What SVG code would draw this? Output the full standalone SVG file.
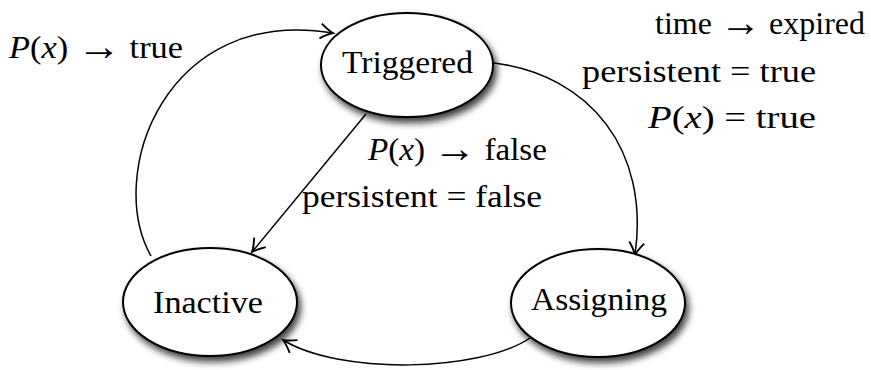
<svg xmlns="http://www.w3.org/2000/svg" width="871" height="370" viewBox="0 0 871 370">
<style>
.node{fill:#fff;stroke:#000;stroke-width:2;filter:url(#sh)}
.edge{fill:none;stroke:#000;stroke-width:1.5;marker-end:url(#arr)}
.t{font-family:'Liberation Serif','DejaVu Serif',serif;font-size:31px;fill:#000}
.it{font-style:italic}
.ar{font-size:40px}
</style>
<defs>
<filter id="sh" x="-20%" y="-20%" width="150%" height="150%">
<feDropShadow dx="3" dy="5" stdDeviation="3.5" flood-color="#000" flood-opacity="0.75"/>
</filter>
<marker id="arr" markerUnits="userSpaceOnUse" markerWidth="20" markerHeight="20" refX="0" refY="0" viewBox="-12 -8 14 16" orient="auto">
<path d="M-10,-6 Q-4,-1.5 0,0 Q-4,1.5 -10,6" fill="none" stroke="#000" stroke-width="1.5"/>
</marker>
</defs>
<g id="edges">
<path class="edge" d="M151,256 C105,175 165,5 333,33"/>
<path class="edge" d="M494,63 C590,75 650,150 635,255"/>
<path class="edge" d="M366,114 L252,252"/>
<path class="edge" d="M530,338 C480,372 340,375 283,340"/>
</g>
<g id="triggered">
<ellipse class="node" cx="407" cy="65" rx="86" ry="52"/>
<text class="t" x="342" y="73" textLength="131" lengthAdjust="spacingAndGlyphs">Triggered</text>
</g>
<g id="inactive">
<ellipse class="node" cx="210" cy="302" rx="87" ry="54"/>
<text class="t" x="153" y="313" textLength="110" lengthAdjust="spacingAndGlyphs">Inactive</text>
</g>
<g id="assigning">
<ellipse class="node" cx="598" cy="303" rx="87" ry="54"/>
<text class="t" x="531" y="310" textLength="136" lengthAdjust="spacingAndGlyphs">Assigning</text>
</g>
<g id="labels">
<text class="t" x="9" y="58" textLength="174" lengthAdjust="spacingAndGlyphs"><tspan class="it">P</tspan>(<tspan class="it">x</tspan>) <tspan class="ar" dy="2">→</tspan><tspan dy="-2"> true</tspan></text>
<text class="t" x="655" y="34" textLength="210" lengthAdjust="spacingAndGlyphs">time <tspan class="ar" dy="2">→</tspan><tspan dy="-2"> expired</tspan></text>
<text class="t" x="582" y="82" textLength="234" lengthAdjust="spacingAndGlyphs">persistent = true</text>
<text class="t" x="648" y="128" textLength="168" lengthAdjust="spacingAndGlyphs"><tspan class="it">P</tspan>(<tspan class="it">x</tspan>) = true</text>
<text class="t" x="368" y="160" textLength="179" lengthAdjust="spacingAndGlyphs"><tspan class="it">P</tspan>(<tspan class="it">x</tspan>) <tspan class="ar" dy="2">→</tspan><tspan dy="-2"> false</tspan></text>
<text class="t" x="302" y="207" textLength="240" lengthAdjust="spacingAndGlyphs">persistent = false</text>
</g>
</svg>
